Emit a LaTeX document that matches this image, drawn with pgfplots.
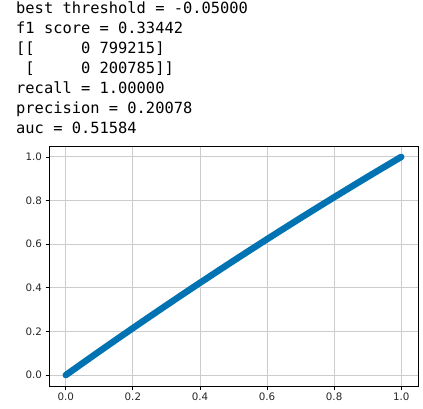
\documentclass[border=0pt]{standalone}
\usepackage{fontspec}
\setmainfont{DejaVu Sans}
\setmonofont{DejaVu Sans Mono}
\usepackage{pgfplots}
\pgfplotsset{compat=1.18}
\definecolor{cbblue}{HTML}{0173B2}
\definecolor{gridgray}{HTML}{CCCCCC}
\begin{document}
\begin{tikzpicture}[x=1bp,y=1bp]
\useasboundingbox (0,0) rectangle (423,409);
\begin{axis}[
  at={(49bp,23bp)}, anchor=south west,
  scale only axis, width=369bp, height=240bp,
  xmin=-0.05, xmax=1.05, ymin=-0.05, ymax=1.05,
  xtick={0,0.2,0.4,0.6,0.8,1.0}, ytick={0,0.2,0.4,0.6,0.8,1.0},
  xticklabel style={/pgf/number format/.cd,fixed,fixed zerofill,precision=1},
  yticklabel style={/pgf/number format/.cd,fixed,fixed zerofill,precision=1},
  /pgf/number format/assume math mode=true,
  ticklabel style={font=\fontsize{10.3bp}{12bp}\selectfont, text=black!85},
  tick align=outside, major tick length=3.5bp,
  tick style={black, line width=0.8bp},
  xtick pos=bottom, ytick pos=left,
  grid=major, major grid style={gridgray, line width=0.9bp},
  axis line style={black, line width=0.8bp},
]
\addplot[cbblue, line width=6.5bp, line cap=round, line join=round] coordinates {
(0,0) (0.05,0.0545) (0.1,0.1086) (0.15,0.1621) (0.2,0.2152) (0.25,0.2678)
(0.3,0.320) (0.35,0.3716) (0.4,0.4228) (0.45,0.4735) (0.5,0.5238)
(0.55,0.5735) (0.6,0.6228) (0.65,0.6716) (0.7,0.72) (0.75,0.7678)
(0.8,0.8152) (0.85,0.8621) (0.9,0.9086) (0.95,0.9545) (1,1)
};
\end{axis}
\begin{scope}[every node/.style={anchor=base west, inner sep=0pt, font=\ttfamily\fontsize{15.4bp}{20bp}\selectfont, text=black}]
\node at (16,395.5) {best threshold = -0.05000};
\node at (16,375.5) {f1 score = 0.33442};
\node at (16,355.5) {[[\ \ \ \ \ 0 799215]};
\node at (16,335.5) {\ [\ \ \ \ \ 0 200785]]};
\node at (16,315.5) {recall = 1.00000};
\node at (16,295.5) {precision = 0.20078};
\node at (16,275.5) {auc = 0.51584};
\end{scope}
\end{tikzpicture}
\end{document}
